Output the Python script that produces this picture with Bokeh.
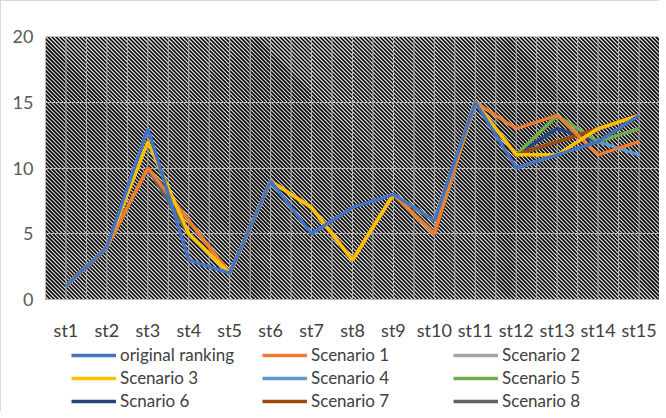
from bokeh.plotting import figure
from bokeh.models import FixedTicker, Legend, LegendItem, Range1d
from bokeh.embed import file_html
from bokeh.resources import INLINE

categories = ["st1", "st2", "st3", "st4", "st5", "st6", "st7", "st8",
              "st9", "st10", "st11", "st12", "st13", "st14", "st15"]

original_ranking = [1, 4, 13, 3, 2, 9, 5, 7, 8, 6, 15, 10, 11, 12, 14]
scenario_1 = [1, 4, 10, 6, 2, 9, 7, 3, 8, 5, 15, 13, 14, 11, 12]
scenario_2 = [1, 4, 10, 5, 2, 9, 7, 3, 8, 6, 15, 11, 12, 13, 14]
scenario_3 = [1, 4, 12, 5, 2, 9, 7, 3, 8, 6, 15, 11, 11, 13, 14]
scenario_4 = [1, 4, 10, 6, 2, 9, 7, 3, 8, 5, 15, 11, 13, 12, 11]
scenario_5 = [1, 4, 10, 6, 2, 9, 7, 3, 8, 5, 15, 11, 14, 12, 13]
scnario_6 = [1, 4, 10, 6, 2, 9, 7, 3, 8, 5, 15, 11, 13, 12, 14]
scenario_7 = [1, 4, 10, 6, 2, 9, 7, 3, 8, 5, 15, 11, 12, 13, 14]
scenario_8 = [1, 4, 10, 5, 2, 9, 7, 3, 8, 6, 15, 11, 12, 13, 14]

y_ticks = [0, 5, 10, 15, 20]

series = [
    ("original ranking", original_ranking, "#4472C4"),
    ("Scenario 1", scenario_1, "#ED7D31"),
    ("Scenario 2", scenario_2, "#A5A5A5"),
    ("Scenario 3", scenario_3, "#FFC000"),
    ("Scenario 4", scenario_4, "#5B9BD5"),
    ("Scenario 5", scenario_5, "#70AD47"),
    ("Scnario 6", scnario_6, "#264478"),
    ("Scenario 7", scenario_7, "#9E480E"),
    ("Scenario 8", scenario_8, "#636363"),
]
draw_order = ["Scenario 2", "Scenario 8", "Scenario 4", "Scnario 6", "Scenario 5",
              "Scenario 7", "Scenario 1", "Scenario 3", "original ranking"]

n = len(categories)
xs = list(range(1, n + 1))
FW = 614          # frame width (px)
DH = 263          # height of the data area 0..20 (px)
BELOW = 112       # room under the data area for the category labels and legend
X0, X1, Y0, Y1 = 0.5, n + 0.5, 0, 20
YMIN = -(BELOW / DH) * (Y1 - Y0)

p = figure(frame_width=FW, frame_height=DH + BELOW, output_backend="svg",
           toolbar_location=None, min_border_left=44, min_border_right=0,
           min_border_top=35, min_border_bottom=0,
           x_range=Range1d(X0, X1), y_range=Range1d(YMIN, Y1),
           background_fill_color="white", border_fill_color="white",
           styles={"border-left": "1px solid #d9d9d9", "border-top": "1px solid #d9d9d9"})
p.outline_line_color = None

# black plot area
bg = p.quad(left=[X0], right=[X1], bottom=[Y0], top=[Y1], fill_color="black",
            line_color=None)
bg.level = "image"

# diagonal white hatch ("\" direction), 4px horizontal period
px_x = (X1 - X0) / FW
step = 4 * px_x
run = DH * px_x
hx0, hx1, hy0, hy1 = [], [], [], []
k = -int(DH / 4) - 2
while X0 + k * step < X1 + step:
    xa = X0 + k * step
    hx0.append(xa); hy0.append(Y1)
    hx1.append(xa + run); hy1.append(Y0)
    k += 1
hr = p.segment(hx0, hy0, hx1, hy1, line_color="#e6e6e6", line_width=1.2)
hr.level = "image"

# vertical grid lines at categories and between them, only over the data area
vg = [X0 + i * 0.5 for i in range(0, 2 * n + 1)]
vr = p.segment(vg, [Y0] * len(vg), vg, [Y1] * len(vg), line_color="#b4b4b4",
               line_width=1)
vr.level = "underlay"

renderers = {}
for name in draw_order:
    _, vals, col = next(s for s in series if s[0] == name)
    renderers[name] = p.line(xs, vals, line_color=col, line_width=3.5)

# category labels
p.text(x=xs, y=[Y0] * n, text=categories, y_offset=30, text_align="center",
       text_baseline="middle", text_font={"value": "Lato"}, text_font_size="18px",
       text_color="#404040")

items = [LegendItem(label=nm, renderers=[renderers[nm]]) for nm, _, _ in series]
legend = Legend(items=items, orientation="horizontal", ncols=3,
                location=(26, 0), glyph_width=45, glyph_height=20,
                label_height=20, label_width=140, label_standoff=4, spacing=2,
                padding=0, margin=0, border_line_color=None,
                background_fill_alpha=0, label_text_font="Lato",
                label_text_font_size="17px", label_text_color="#404040")
p.add_layout(legend)

p.xaxis.visible = False
p.xgrid.visible = False

p.yaxis.ticker = FixedTicker(ticks=y_ticks)
p.yaxis.axis_line_color = None
p.yaxis.major_tick_line_color = None
p.yaxis.minor_tick_line_color = None
p.yaxis.major_label_standoff = 6
p.yaxis.major_label_text_font = "Lato"
p.yaxis.major_label_text_font_size = "18px"
p.yaxis.major_label_text_color = "#595959"

p.ygrid.ticker = FixedTicker(ticks=y_ticks)
p.ygrid.grid_line_color = "#b4b4b4"
p.ygrid.grid_line_width = 1

open("out.html", "w").write(file_html(p, INLINE))
